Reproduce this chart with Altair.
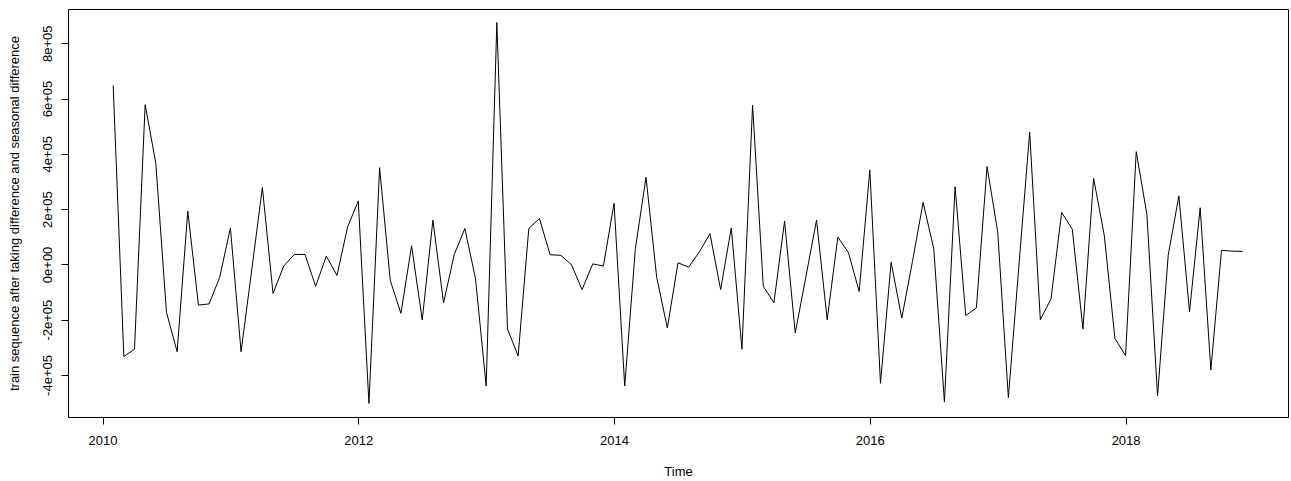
import altair as alt
import pandas as pd

# Monthly series, Feb 2010 .. Dec 2018
start_year = 2010
start_month = 2
values = [
    648000, -333000, -307000, 578000, 366000, -173000, -316000, 193000, -147000, -143000, -46000,
    132000, -316000, -20000, 278000, -105000, -6000, 36000, 36000, -79000, 30000, -40000, 136000, 229000,
    -503000, 350000, -58000, -177000, 67000, -201000, 160000, -139000, 35000, 130000, -52000, -440000,
    875000, -234000, -331000, 130000, 166000, 35000, 33000, -1000, -91000, 2000, -6000, 221000,
    -440000, 57000, 315000, -46000, -230000, 6000, -10000, 45000, 111000, -91000, 132000, -307000,
    576000, -79000, -139000, 156000, -248000, -45000, 160000, -200000, 99000, 42000, -98000, 342000,
    -430000, 8000, -194000, 10000, 224000, 57000, -498000, 281000, -185000, -157000, 354000, 118000,
    -482000, 0, 479000, -200000, -125000, 188000, 127000, -234000, 311000, 105000, -268000, -330000,
    408000, 181000, -476000, 33000, 248000, -171000, 205000, -382000, 51000, 48000, 47000,
]

x_ticks = [2010, 2012, 2014, 2016, 2018]
y_ticks = [-400000, -200000, 0, 200000, 400000, 600000, 800000]
y_tick_labels = ["-4e+05", "-2e+05", "0e+00", "2e+05", "4e+05", "6e+05", "8e+05"]

x_title = "Time"
y_title = "train sequence after taking difference and seasonal difference"

times = [start_year + (start_month - 1 + i) / 12 for i in range(len(values))]
df = pd.DataFrame({"t": times, "v": values})

label_expr = "".join(
    f"datum.value == {v} ? '{l}' : " for v, l in zip(y_ticks, y_tick_labels)
) + "''"

FONT = "Liberation Sans"

chart = (
    alt.Chart(df)
    .mark_line(color="black", strokeWidth=1)
    .encode(
        x=alt.X(
            "t:Q",
            scale=alt.Scale(domain=[2009.73, 2019.27], nice=False, zero=False),
            axis=alt.Axis(
                values=x_ticks,
                format="d",
                title=x_title,
                grid=False,
                domain=False,
                tickSize=7,
                tickColor="black",
                labelColor="black",
                labelFont=FONT,
                labelFontSize=13,
                labelBaseline="middle",
                labelPadding=16,
                titleFont=FONT,
                titleFontSize=13,
                titleFontWeight="normal",
                titleColor="black",
                titleBaseline="middle",
                titleAlign="center",
                titleX=610,
                titleY=54,
            ),
        ),
        y=alt.Y(
            "v:Q",
            scale=alt.Scale(domain=[-552000, 924000], nice=False, zero=False),
            axis=alt.Axis(
                values=y_ticks,
                labelExpr=label_expr,
                title=y_title,
                grid=False,
                domain=False,
                tickSize=7,
                tickColor="black",
                labelColor="black",
                labelFont=FONT,
                labelFontSize=13,
                labelAngle=270,
                labelAlign="center",
                labelBaseline="middle",
                labelPadding=14,
                titleFont=FONT,
                titleFontSize=13,
                titleFontWeight="normal",
                titleColor="black",
                titleAngle=270,
                titleAlign="center",
                titleBaseline="middle",
                titleX=-54,
                titleY=204,
            ),
        ),
    )
    .properties(
        width=1220,
        height=408,
        padding={"left": 68, "top": 9, "right": 3, "bottom": 64},
        autosize=alt.AutoSizeParams(type="none"),
        background="white",
    )
    .configure_view(stroke="black", strokeWidth=1)
)

chart.save("out.html", embed_options={"renderer": "svg", "actions": False})
